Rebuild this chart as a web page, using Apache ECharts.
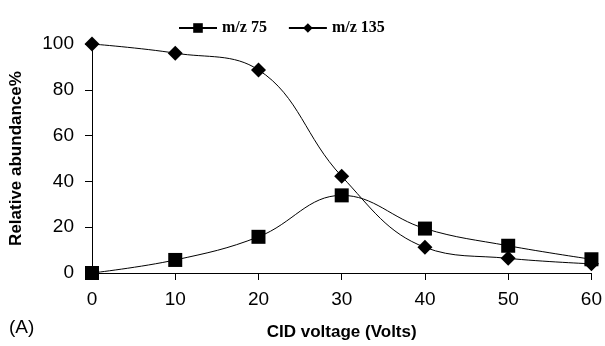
<!DOCTYPE html>
<html>
<head>
<meta charset="utf-8">
<script src="https://cdn.jsdelivr.net/npm/echarts@6/dist/echarts.min.js"></script>
<style>
html, body { margin: 0; padding: 0; background: #fff; }
#main { width: 605px; height: 346px; }
</style>
</head>
<body>
<div id="main"></div>
<script>
// CID voltage values
var voltages = [0, 10, 20, 30, 40, 50, 60];
var mz75 = [0, 5.7, 15.8, 33.9, 19.4, 11.9, 6];
var mz135 = [100, 96, 88.7, 42.2, 11.2, 6.4, 4];

function pairs(ys) {
	return voltages.map(function (v, i) { return [v, ys[i]]; });
}

var myChart = echarts.init(document.getElementById('main'));

var axisText = { color: '#000', fontSize: 19, fontFamily: 'Liberation Sans, Arial' };
var titleText = { color: '#000', fontSize: 17, fontWeight: 'bold', fontFamily: 'Liberation Sans, Arial' };

option = {
	animation: false,
	grid: {
		left: 89,
		right: 12,
		top: 44,
		bottom: 73
	},
	legend: {
		top: 15,
		left: 173,
		itemWidth: 38,
		itemHeight: 12,
		itemGap: 21,
		textStyle: {
			color: '#000',
			fontSize: 16,
			fontWeight: 'bold',
			fontFamily: 'Liberation Serif, Times New Roman'
		},
		data: ['m/z 75', 'm/z 135']
	},
	graphic: [{
		type: 'text',
		left: 9,
		top: 318,
		style: { text: '(A)', fontSize: 19, fill: '#000', fontFamily: 'Liberation Sans, Arial' }
	}],
	xAxis: {
		type: 'value',
		min: 0,
		max: 60,
		interval: 10,
		name: 'CID voltage (Volts)',
		nameLocation: 'middle',
		nameGap: 51,
		nameTextStyle: titleText,
		axisLine: { onZero: false, lineStyle: { color: '#000', width: 1 } },
		axisTick: { show: true, length: 7, lineStyle: { color: '#000' } },
		axisLabel: Object.assign({ margin: 17 }, axisText),
		splitLine: { show: false }
	},
	yAxis: {
		type: 'value',
		min: 0,
		max: 100,
		interval: 20,
		name: 'Relative abundance%',
		nameLocation: 'middle',
		nameGap: 67,
		nameTextStyle: titleText,
		axisLine: { show: true, lineStyle: { color: '#000', width: 1 } },
		axisTick: { show: true, length: 7, lineStyle: { color: '#000' } },
		axisLabel: Object.assign({ margin: 18 }, axisText),
		splitLine: { show: false }
	},
	series: [{
		name: 'm/z 75',
		type: 'line',
		smooth: 0.4,
		symbol: 'rect',
		symbolSize: 14,
		itemStyle: { color: '#000' },
		lineStyle: { color: '#000', width: 1 },
		data: pairs(mz75)
	}, {
		name: 'm/z 135',
		type: 'line',
		smooth: 0.4,
		symbol: 'diamond',
		symbolSize: 15,
		itemStyle: { color: '#000' },
		lineStyle: { color: '#000', width: 1 },
		data: pairs(mz135)
	}]
};
myChart.setOption(option);
window.addEventListener("resize", function () {
	myChart.resize();
});
</script>
</body>
</html>
